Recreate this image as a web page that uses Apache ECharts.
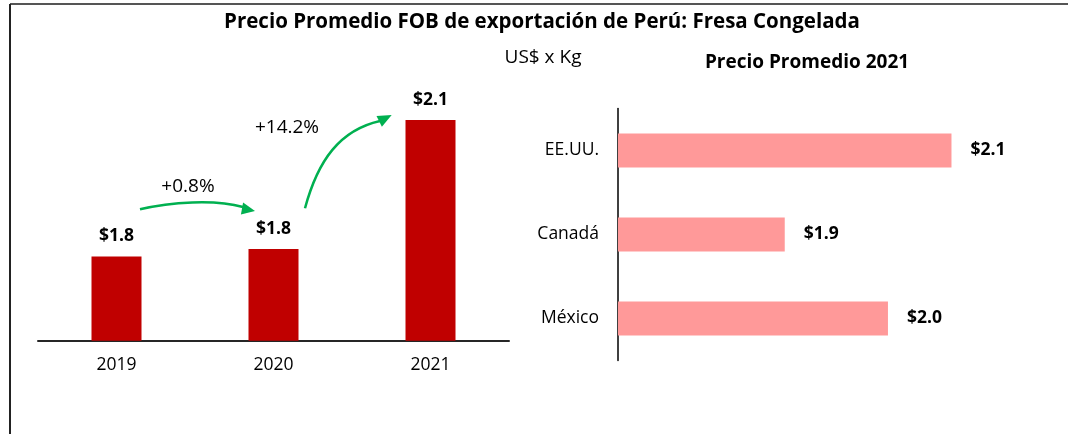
<!DOCTYPE html>
<html>
<head>
<meta charset="utf-8">
<script src="https://cdn.jsdelivr.net/npm/echarts@6/dist/echarts.min.js"></script>
<style>
  html, body { margin: 0; padding: 0; background: #fff; }
  #main { width: 1068px; height: 434px; }
</style>
</head>
<body>
<div id="main"></div>
<script type="text/javascript">
  // datos
  var years = ['2019', '2020', '2021'];
  var precioAnual = [1.825, 1.84, 2.10];
  var paises = ['EE.UU.', 'Canadá', 'México'];
  var precioPais = [2.12, 1.91, 2.04];
  var variaciones = ['+0.8%', '+14.2%'];

  var FONT = '"Open Sans", Lato, sans-serif';
  var VERDE = '#00B050';

  var chart = echarts.init(document.getElementById('main'));

  function dolar(p) { return '$' + p.value.toFixed(1); }

  // texto centrado (titulos y anotaciones)
  function texto(t, x, y, size, bold) {
    return {
      type: 'text', x: x, y: y,
      style: {
        text: t, fontSize: size, fontWeight: bold ? 'bold' : 'normal',
        fontFamily: FONT, fill: '#000', align: 'center', verticalAlign: 'middle'
      }
    };
  }

  var option = {
    animation: false,
    textStyle: { fontFamily: FONT },
    grid: [
      { left: 38, top: 92.7, width: 471, height: 248 },
      { left: 618, top: 108.5, width: 397, height: 252 }
    ],
    xAxis: [
      {
        type: 'category', gridIndex: 0, data: years,
        axisLine: { lineStyle: { color: '#262626', width: 2 } },
        axisTick: { show: false },
        axisLabel: { color: '#000', fontSize: 17.5, margin: 15, fontFamily: FONT }
      },
      {
        type: 'value', gridIndex: 1, min: 1.7, max: 2.2,
        show: false
      }
    ],
    yAxis: [
      {
        type: 'value', gridIndex: 0, min: 1.655, max: 2.155,
        show: false
      },
      {
        type: 'category', gridIndex: 1, data: paises, inverse: true,
        axisLine: { lineStyle: { color: '#000', width: 1.5 } },
        axisTick: { show: false },
        axisLabel: { color: '#000', fontSize: 17.5, margin: 19, fontFamily: FONT }
      }
    ],
    series: [
      {
        type: 'bar', xAxisIndex: 0, yAxisIndex: 0,
        data: precioAnual, barWidth: 50,
        itemStyle: { color: '#C00000' },
        label: {
          show: true, position: 'top', distance: 11, formatter: dolar,
          color: '#000', fontWeight: 'bold', fontSize: 17.5, fontFamily: FONT
        }
      },
      {
        type: 'bar', xAxisIndex: 1, yAxisIndex: 1,
        data: precioPais, barWidth: 34,
        itemStyle: { color: '#FF9999' },
        label: {
          show: true, position: 'right', distance: 19, formatter: dolar,
          color: '#000', fontWeight: 'bold', fontSize: 17.5, fontFamily: FONT
        }
      }
    ],
    graphic: [
      // marco
      { type: 'line', shape: { x1: 10, y1: 4, x2: 1068, y2: 4 }, style: { stroke: '#555', lineWidth: 2 } },
      { type: 'line', shape: { x1: 10, y1: 4, x2: 10, y2: 434 }, style: { stroke: '#222', lineWidth: 2 } },
      // titulos
      texto('Precio Promedio FOB de exportación de Perú: Fresa Congelada', 542, 22, 20.5, true),
      texto('US$ x Kg', 543, 58, 19, false),
      texto('Precio Promedio 2021', 807, 63, 19, true),
      // flecha 2019 -> 2020
      {
        type: 'bezierCurve',
        shape: { x1: 140, y1: 209.3, cpx1: 170, cpy1: 202, cpx2: 215, cpy2: 199, x2: 243, y2: 207 },
        style: { stroke: VERDE, lineWidth: 2.5, fill: null }
      },
      { type: 'polygon', shape: { points: [[255, 211], [243.1, 202.6], [240.9, 214.4]] }, style: { fill: VERDE } },
      texto(variaciones[0], 188, 187, 19, false),
      // flecha 2020 -> 2021
      {
        type: 'bezierCurve',
        shape: { x1: 305, y1: 208.3, cpx1: 318, cpy1: 160, cpx2: 340, cpy2: 130, x2: 380, y2: 121 },
        style: { stroke: VERDE, lineWidth: 2.5, fill: null }
      },
      { type: 'polygon', shape: { points: [[391.7, 115], [381.9, 126.7], [376.5, 115.9]] }, style: { fill: VERDE } },
      texto(variaciones[1], 287, 128, 19, false)
    ]
  };

  chart.setOption(option);
</script>
</body>
</html>
